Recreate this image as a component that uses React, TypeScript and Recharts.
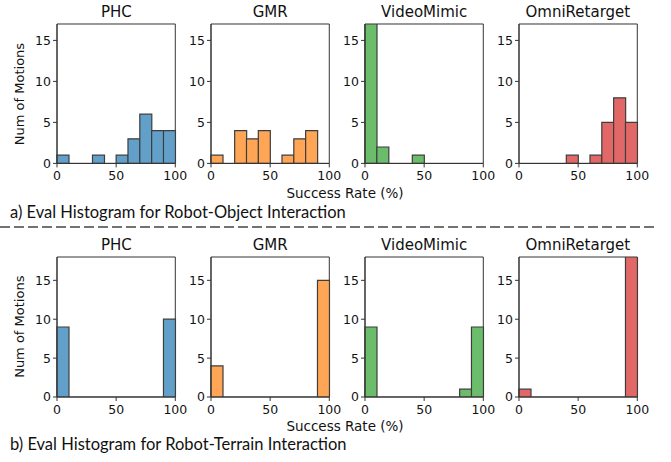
import { Bar, BarChart, ReferenceArea, XAxis, YAxis } from "recharts";

const BIN_MIDS = [5, 15, 25, 35, 45, 55, 65, 75, 85, 95];
const METHODS = ["PHC", "GMR", "VideoMimic", "OmniRetarget"];
const COLORS = ["#62a0ca", "#ffa556", "#6bbc6b", "#e26868"];

// robot-object interaction counts per 10% bin
const OBJ_PHC = [1, 0, 0, 1, 0, 1, 3, 6, 4, 4];
const OBJ_GMR = [1, 0, 4, 3, 4, 0, 1, 3, 4, 0];
const OBJ_VIDEOMIMIC = [17, 2, 0, 0, 1, 0, 0, 0, 0, 0];
const OBJ_OMNI = [0, 0, 0, 0, 1, 0, 1, 5, 8, 5];

// robot-terrain interaction counts per 10% bin
const TER_PHC = [9, 0, 0, 0, 0, 0, 0, 0, 0, 10];
const TER_GMR = [4, 0, 0, 0, 0, 0, 0, 0, 0, 15];
const TER_VIDEOMIMIC = [9, 0, 0, 0, 0, 0, 0, 0, 1, 9];
const TER_OMNI = [1, 0, 0, 0, 0, 0, 0, 0, 0, 18];

const X_TICKS = [0, 50, 100];
const Y_TICKS = [0, 5, 10, 15];

const FONT = "'DejaVu Sans', sans-serif";
const CAPTION_FONT = "Lato, 'Open Sans', sans-serif";
const EDGE = "#3d3d3d";
const SPINE = "#333";

const PLOT_LEFTS = [57.3, 211, 365, 518.7];
const PLOT_W = 118.3;
const Y_AXIS_W = 36;
const M_TOP = 5;
const M_RIGHT = 16;
const X_AXIS_H = 24;

const ROWS = [
  {
    top: 24.3,
    height: 139.4,
    yMax: 17,
    series: [OBJ_PHC, OBJ_GMR, OBJ_VIDEOMIMIC, OBJ_OMNI],
    caption: "a) Eval Histogram for Robot-Object Interaction",
    captionY: 218,
    xLabelY: 198,
  },
  {
    top: 256.7,
    height: 140,
    yMax: 18,
    series: [TER_PHC, TER_GMR, TER_VIDEOMIMIC, TER_OMNI],
    caption: "b) Eval Histogram for Robot-Terrain Interaction",
    captionY: 450,
    xLabelY: 431,
  },
];

function Panel({
  counts,
  color,
  left,
  top,
  plotH,
  yMax,
}: {
  counts: number[];
  color: string;
  left: number;
  top: number;
  plotH: number;
  yMax: number;
}) {
  const data = BIN_MIDS.map((mid, i) => ({ mid, count: counts[i] }));
  const width = Y_AXIS_W + PLOT_W + M_RIGHT;
  const height = M_TOP + plotH + X_AXIS_H;
  const tick = { fill: "#111", fontSize: 12.5, fontFamily: FONT };

  return (
    <div
      style={{
        position: "absolute",
        left: left - Y_AXIS_W,
        top: top - M_TOP,
        width,
        height,
      }}
    >
      <BarChart
        width={width}
        height={height}
        data={data}
        barCategoryGap={0}
        barGap={0}
        margin={{ top: M_TOP, right: M_RIGHT, left: 0, bottom: 0 }}
      >
        <XAxis xAxisId="bins" dataKey="mid" hide height={0} />
        <XAxis
          xAxisId="num"
          dataKey="mid"
          type="number"
          domain={[0, 100]}
          ticks={X_TICKS}
          height={X_AXIS_H}
          tickSize={4}
          tickMargin={4}
          tick={tick}
          stroke={SPINE}
          interval={0}
        />
        <YAxis
          domain={[0, yMax]}
          ticks={Y_TICKS}
          width={Y_AXIS_W}
          tickSize={4}
          tickMargin={2}
          tick={tick}
          stroke={SPINE}
          allowDataOverflow
        />
        <Bar
          xAxisId="bins"
          dataKey="count"
          fill={color}
          stroke={EDGE}
          strokeWidth={1.2}
          isAnimationActive={false}
        />
        <ReferenceArea
          xAxisId="num"
          x1={0}
          x2={100}
          y1={0}
          y2={yMax}
          fill="none"
          fillOpacity={0}
          stroke={SPINE}
          strokeWidth={1}
        />
      </BarChart>
    </div>
  );
}

export default function App() {
  return (
    <div
      style={{
        position: "absolute",
        left: 0,
        top: 0,
        width: 671,
        height: 462,
        background: "#fff",
      }}
    >
      {ROWS.map((row, r) =>
        row.series.map((counts, c) => (
          <Panel
            key={`${r}-${c}`}
            counts={counts}
            color={COLORS[c]}
            left={PLOT_LEFTS[c]}
            top={row.top}
            plotH={row.height}
            yMax={row.yMax}
          />
        ))
      )}
      <svg
        width={671}
        height={462}
        style={{ position: "absolute", left: 0, top: 0, pointerEvents: "none" }}
      >
        {ROWS.map((row, r) => (
          <g key={r}>
            {METHODS.map((name, c) => (
              <text
                key={name}
                x={PLOT_LEFTS[c] + PLOT_W / 2}
                y={row.top - 7}
                textAnchor="middle"
                fontFamily={FONT}
                fontSize={15}
                fill="#111"
              >
                {name}
              </text>
            ))}
            <text
              transform={`translate(24, ${row.top + row.height / 2}) rotate(-90)`}
              textAnchor="middle"
              fontFamily={FONT}
              fontSize={13}
              fill="#111"
            >
              Num of Motions
            </text>
            <text
              x={345}
              y={row.xLabelY}
              textAnchor="middle"
              fontFamily={FONT}
              fontSize={13.5}
              fill="#111"
            >
              Success Rate (%)
            </text>
            <text
              x={10}
              y={row.captionY}
              fontFamily={CAPTION_FONT}
              fontSize={16.5}
              fill="#111"
            >
              {row.caption}
            </text>
          </g>
        ))}
        <line
          x1={0}
          x2={658}
          y1={227}
          y2={227}
          stroke="#444"
          strokeWidth={1.5}
          strokeDasharray="10 4"
        />
      </svg>
    </div>
  );
}
